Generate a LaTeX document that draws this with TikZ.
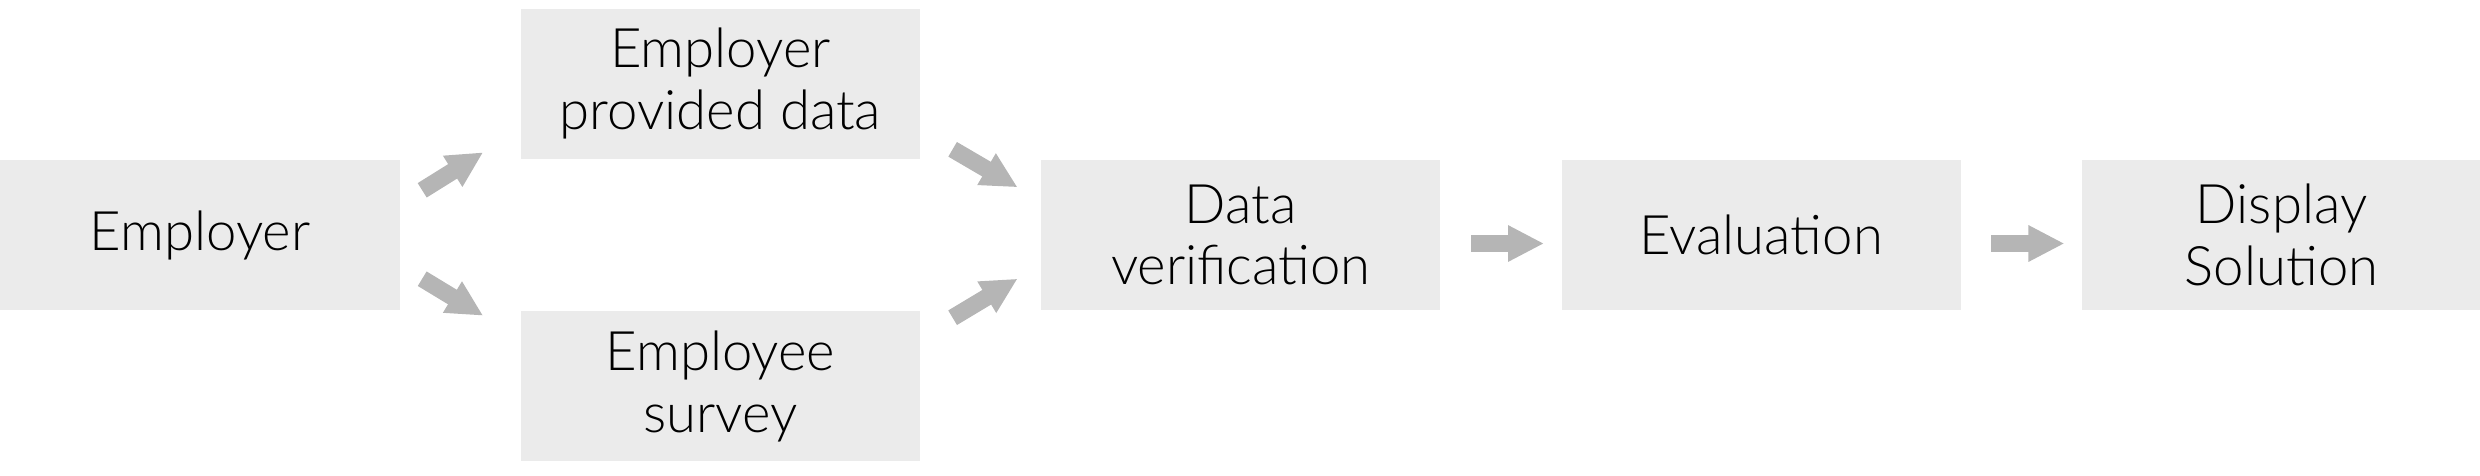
\documentclass[tikz,border=0pt]{standalone}
\usepackage{fontspec}
\setmainfont{Lato}[UprightFont=* Light]
\usetikzlibrary{positioning,arrows.meta}
\definecolor{boxgray}{HTML}{EBEBEB}
\definecolor{arrowgray}{HTML}{B5B5B5}

\begin{document}
\begin{tikzpicture}[node distance=1.2cm and 1.2cm,
  every node/.style={scale=1.0},
  stepbox/.style={rectangle,fill=boxgray,minimum width=3.99cm,minimum height=1.5cm,
    align=center,inner sep=0pt,font=\fontsize{15.5}{17.5}\selectfont},
  flow/.style={draw=arrowgray,line width=1.7mm,-{Triangle[width=3.4mm,length=3.6mm]}}]
  \useasboundingbox (0,0) rectangle (24.8,4.75);

  \node[stepbox] (emp) at (2.0,2.4) {Employer};
  \node[stepbox] (epd) [above right=0cm and 1.2cm of emp] {Employer\\provided data};
  \node[stepbox] (es) [below right=0cm and 1.2cm of emp] {Employee\\survey};

  \node[stepbox] (dv) [below right=0cm and 1.2cm of epd] {Data\\verification};
  \node[stepbox] (ev) [right=of dv] {Evaluation};
  \node[stepbox] (ds) [right=of ev] {Display\\Solution};

  \draw[flow] ([xshift=2.2mm,yshift=-3.1mm]emp.north east) -- ([xshift=-3.7mm,yshift=0.7mm]epd.south west);
  \draw[flow] ([xshift=2.2mm,yshift=3.2mm]emp.south east) -- ([xshift=-3.7mm,yshift=-0.5mm]es.north west);

  \draw[flow] ([xshift=3.2mm,yshift=1.0mm]epd.south east) -- ([xshift=-2.3mm,yshift=-2.8mm]dv.north west);
  \draw[flow] ([xshift=3.2mm,yshift=-0.7mm]es.north east) -- ([xshift=-2.3mm,yshift=3.2mm]dv.south west);

  \draw[flow] ([xshift=3mm,yshift=-0.85mm]dv.east) -- ([xshift=-1.7mm,yshift=-0.85mm]ev.west);
  \draw[flow] ([xshift=3mm,yshift=-0.85mm]ev.east) -- ([xshift=-1.7mm,yshift=-0.85mm]ds.west);
\end{tikzpicture}
\end{document}
